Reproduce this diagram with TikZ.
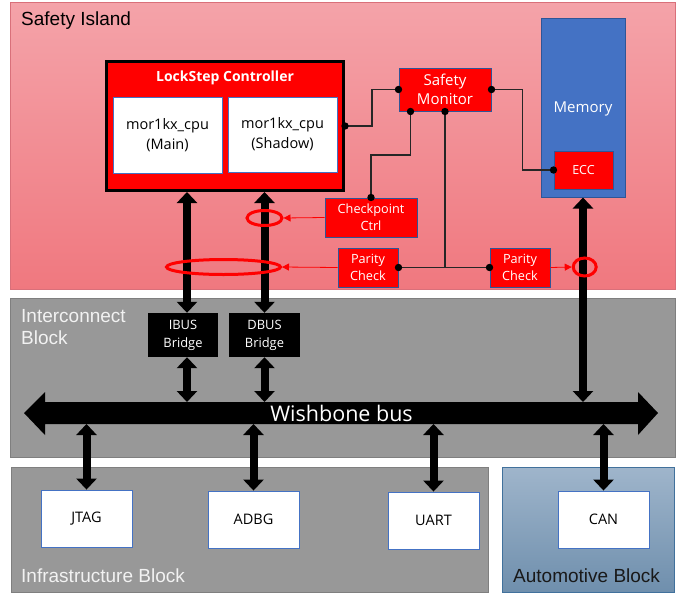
\documentclass[tikz,border=0pt]{standalone}
\usepackage{fontspec}
\setmainfont{Open Sans}
\newfontfamily\labfont{Liberation Sans}
\usetikzlibrary{arrows.meta,shapes.geometric,calc}
\definecolor{sitop}{HTML}{F4A3A9}
\definecolor{sibot}{HTML}{F0787F}
\definecolor{sibord}{HTML}{D9707A}
\definecolor{grayfill}{HTML}{989898}
\definecolor{graybord}{HTML}{7F7F7F}
\definecolor{autotop}{HTML}{9FB5CB}
\definecolor{autobot}{HTML}{6F8FAD}
\definecolor{autobord}{HTML}{41719C}
\definecolor{rbord}{HTML}{2F5597}
\definecolor{wbord}{HTML}{4472C4}
\definecolor{memfill}{HTML}{4472C4}
\definecolor{linkc}{HTML}{262626}
\definecolor{lightlab}{HTML}{F2F2F2}
\definecolor{redc}{HTML}{FF0000}
\begin{document}
\begin{tikzpicture}[x=1pt,y=-1pt,
  region/.style={inner sep=0, line width=0.8pt},
  redbox/.style={draw=rbord, line width=1pt, fill=redc, text=white, inner sep=0, align=center},
  whitebox/.style={draw=wbord, line width=0.9pt, fill=white, inner sep=0, align=center, font=\fontsize{14.5}{20}\selectfont},
  bridge/.style={fill=black, text=white, inner sep=0, align=center, font=\fontsize{12.9}{18}\selectfont},
  bus/.style={line width=8pt, {Triangle[width=20pt,length=11pt]}-{Triangle[width=20pt,length=11pt]}},
  link/.style={draw=linkc, line width=1.5pt},
  ring/.style={ellipse, draw=redc, line width=3pt, inner sep=0},
  redarrow/.style={draw=redc, line width=0.8pt, -{Triangle[width=7pt,length=7pt]}},
  lab/.style={inner sep=0, font=\labfont\fontsize{19}{22}\selectfont}
]
\useasboundingbox (0,0) rectangle (683,595);

% regions
\node[region, draw=sibord, top color=sitop, bottom color=sibot, minimum width=665, minimum height=287] (si) at (342.5,145.5) {};
\node[region, draw=graybord, fill=grayfill, minimum width=665, minimum height=159] (ic) at (342.5,377.5) {};
\node[region, draw=graybord, fill=grayfill, minimum width=477, minimum height=125] (inf) at (249.5,529.5) {};
\node[region, draw=autobord, top color=autotop, bottom color=autobot, minimum width=172, minimum height=125] (auto) at (588,529.5) {};

\node[lab, anchor=base west] (silab) at (21,25) {Safety Island};
\node[lab, anchor=north west, align=left, text=lightlab] (iclab) at (21,309.5) {Interconnect\\Block};
\node[lab, anchor=base west, text=lightlab] (inflab) at (21,582) {Infrastructure Block};
\node[lab, anchor=base west, text=black!90] (autolab) at (513,582) {Automotive Block};

% lockstep controller
\node[draw=black, line width=3pt, fill=redc, minimum width=237, minimum height=129, inner sep=0] (ls) at (225,126) {};
\node[text=white, inner sep=0, font=\bfseries\fontsize{14}{16}\selectfont] (lstitle) at (225,77.5) {LockStep Controller};
\node[whitebox, minimum width=109, minimum height=76] (main) at (167.5,135) {mor1kx\_cpu\\(Main)};
\node[whitebox, minimum width=109, minimum height=75] (shadow) at (282.5,134.5) {mor1kx\_cpu\\(Shadow)};

% safety monitor, memory
\node[redbox, minimum width=92, minimum height=43, font=\fontsize{15}{19}\selectfont] (sm) at (445,89.5) {Safety\\Monitor};
\node[draw=rbord, line width=1pt, fill=memfill, minimum width=84, minimum height=179, inner sep=0] (mem) at (583,107.5) {};
\node[text=white, inner sep=0, font=\fontsize{15}{18}\selectfont] (memlab) at (583,109) {Memory};
\node[redbox, minimum width=59, minimum height=38, font=\fontsize{12.5}{16}\selectfont] (ecc) at (583.5,170) {ECC};

\node[redbox, minimum width=92, minimum height=39, font=\fontsize{12.7}{17}\selectfont] (cp) at (371,217.5) {Checkpoint\\Ctrl};
\node[redbox, minimum width=60, minimum height=39, font=\fontsize{12.7}{17}\selectfont] (p1) at (368,267.5) {Parity\\Check};
\node[redbox, minimum width=60, minimum height=39, font=\fontsize{12.7}{17}\selectfont] (p2) at (520,267.5) {Parity\\Check};

% bridges
\node[bridge, minimum width=70, minimum height=44] (ib) at (183,335) {IBUS\\Bridge};
\node[bridge, minimum width=71, minimum height=44] (db) at (264.5,335) {DBUS\\Bridge};

% wishbone bus
\fill[black] (24,413) -- (45,392) -- (45,402) -- (638,402) -- (638,392) -- (658,413)
  -- (638,435) -- (638,424) -- (45,424) -- (45,435) -- cycle;
\node[minimum width=593, minimum height=22, inner sep=0, outer sep=0, text=white, font=\fontsize{21.5}{24}\selectfont] (wb) at (341.5,413) {Wishbone bus};

% peripherals
\node[whitebox, minimum width=91, minimum height=57] (jtag) at (86.5,518.5) {JTAG};
\node[whitebox, minimum width=91, minimum height=57] (adbg) at (253.5,519.5) {ADBG};
\node[whitebox, minimum width=91, minimum height=57] (uart) at (433.5,520.5) {UART};
\node[whitebox, minimum width=91, minimum height=57] (can) at (603.5,519.5) {CAN};

% thick bus arrows
\coordinate (ibx) at (187,0);
\draw[bus] (ibx |- ls.south) -- (ibx |- ib.north);
\draw[bus] (db.north |- ls.south) -- (db.north);
\draw[bus] (ibx |- ib.south) -- (ibx |- wb.north);
\draw[bus] (db.south) -- (db.south |- wb.north);
\draw[bus] (mem.south) -- (mem.south |- wb.north);
\draw[bus] (jtag.north |- wb.south) -- (jtag.north);
\draw[bus] (adbg.north |- wb.south) -- (adbg.north);
\draw[bus] (uart.north |- wb.south) -- (uart.north);
\draw[bus] (can.north |- wb.south) -- (can.north);

% monitor links
\coordinate (smA) at ($(sm.south west)+(12,0)$);
\draw[link] (ls.east) -- ++(27,0) |- (sm.west);
\draw[link] (sm.east) -- ++(31,0) |- (ecc.west);
\draw[link] (smA) -- (smA |- 0,155) -| (cp.north);
\draw[link] (sm.south) -- (sm.south |- p1.east);
\draw[link] (p1.east) -- (p2.west);
\foreach \p in {ls.east, sm.west, sm.east, ecc.west, smA, sm.south, cp.north, p1.east, p2.west}
  \fill[black] (\p) circle[radius=3.7pt];

% rings and red arrows
\node[ring, minimum width=35, minimum height=15] (e1) at (264.5,218) {};
\node[ring, minimum width=114, minimum height=15] (e2) at (223.5,267) {};
\node[ring, minimum width=23, minimum height=18] (e3) at (584.7,267) {};
\draw[redarrow] (cp.west) -- (e1.east);
\draw[redarrow] (p1.west) -- (e2.east);
\draw[redarrow] (p2.east) -- (e3.west);
\end{tikzpicture}
\end{document}
